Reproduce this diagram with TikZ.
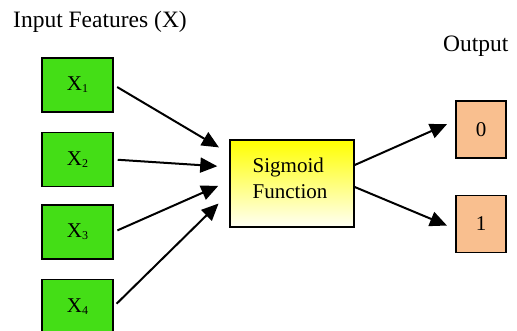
\documentclass[tikz,border=0pt]{standalone}
\usepackage{fontspec}
\setmainfont{Liberation Serif}
\usepackage{xcolor}
\usetikzlibrary{arrows.meta,positioning}

\definecolor{featgreen}{RGB}{68,222,22}
\definecolor{outorange}{RGB}{249,191,143}
\newcommand{\feat}[1]{X\raisebox{-2pt}{\fontsize{12}{12}\selectfont #1}}

\begin{document}
\begin{tikzpicture}[
    x=1pt, y=-1pt,
    node distance=19pt,
    label/.style={font=\fontsize{23.5}{26}\selectfont, inner sep=0pt},
    inbox/.style={rectangle, draw, line width=1.5pt, fill=featgreen, minimum width=71pt, minimum height=54pt, inner sep=0pt, font=\fontsize{21}{24}\selectfont},
    sigbox/.style={rectangle, draw, line width=1.5pt, top color=yellow, bottom color=white!96!yellow, minimum width=124pt, minimum height=87pt},
    outbox/.style={rectangle, draw, line width=1.5pt, fill=outorange, minimum width=50pt, minimum height=57pt, inner sep=0pt, font=\fontsize{21}{24}\selectfont},
    arrow/.style={-{Triangle[length=17pt,width=15pt]}, line width=2pt, shorten <=4pt, shorten >=12pt}
]
\useasboundingbox (0,0) rectangle (517,330);

\node[label, anchor=base west] (title) at (13,27) {Input Features (X)};
\node[label, anchor=base west] (outlbl) at (443,51) {Output};

\node[inbox] (x1) at (77.5,85) {\feat{1}};
\node[inbox, below=19pt of x1] (x2) {\feat{2}};
\node[inbox, below=17pt of x2] (x3) {\feat{3}};
\node[inbox, below=19pt of x3] (x4) {\feat{4}};

% shaded box, text set on top
\node[sigbox] (sig) at (292,183.5) {};
\node[align=left, font=\fontsize{21}{26}\selectfont] (sigtxt) at (290,178) {Sigmoid\\Function};

\node[outbox] (o0) at (481,129.5) {0};
\node[outbox, below=36pt of o0] (o1) {1};

\draw[arrow] (x1.east) -- ([yshift=30pt]sig.west);
\draw[arrow] (x2.east) -- ([yshift=16.5pt]sig.west);
\draw[arrow] (x3.east) -- ([yshift=2.5pt]sig.west);
\draw[arrow, shorten >=15pt] (x4.east) -- ([yshift=-9.5pt]sig.west);

\draw[arrow, shorten <=0pt, shorten >=9pt] ([yshift=18.5pt]sig.east) -- ([yshift=9pt]o0.west);
\draw[arrow, shorten <=0pt, shorten >=9pt] ([yshift=-3.5pt]sig.east) -- ([yshift=-5pt]o1.west);

\end{tikzpicture}
\end{document}
